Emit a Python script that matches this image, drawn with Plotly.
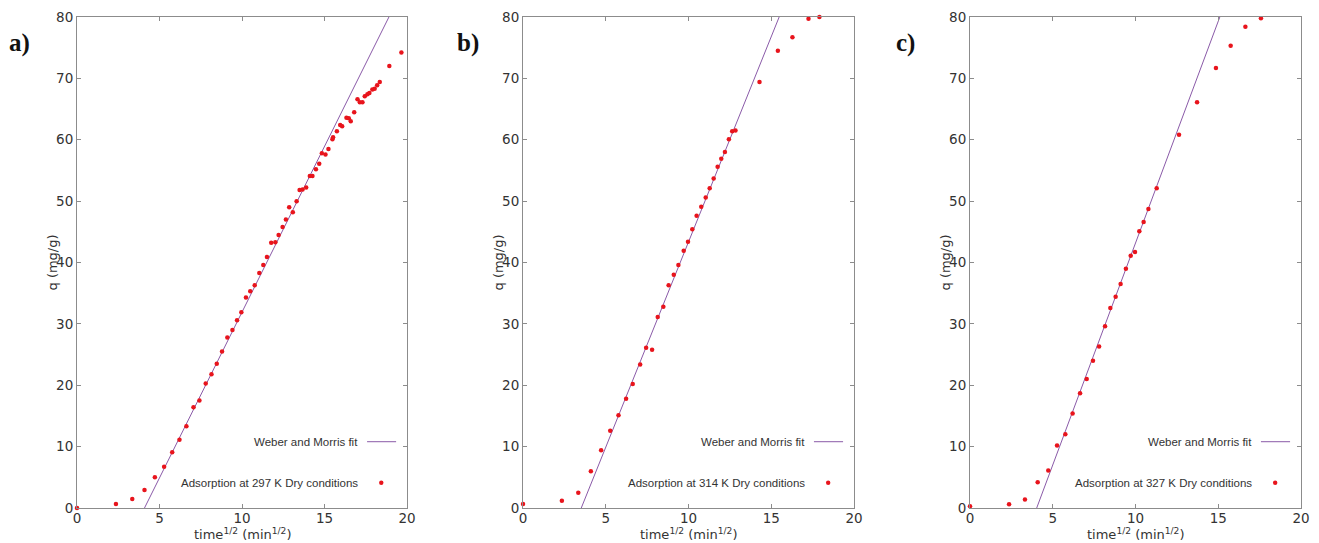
import plotly.graph_objects as go

# ---------------- data ----------------
t_297 = [0.0, 2.36, 3.35, 4.09, 4.72, 5.28, 5.77, 6.21, 6.63, 7.06, 7.42, 7.80, 8.15, 8.47, 8.79,
         9.11, 9.42, 9.70, 9.96, 10.24, 10.50, 10.77, 11.05, 11.29, 11.51, 11.77, 12.02, 12.22,
         12.46, 12.66, 12.86, 13.08, 13.31, 13.49, 13.67, 13.89, 14.11, 14.27, 14.48, 14.68,
         14.84, 15.06, 15.24, 15.48, 15.52, 15.75, 15.95, 16.07, 16.33, 16.47, 16.59, 16.80,
         17.00, 17.14, 17.30, 17.44, 17.60, 17.72, 17.90, 18.04, 18.19, 18.35, 18.93, 19.66]
q_297 = [0.0, 0.65, 1.46, 2.93, 4.99, 6.72, 9.1, 11.1, 13.3, 16.4, 17.5, 20.3, 21.8, 23.5, 25.5,
         27.8, 29.0, 30.6, 31.9, 34.3, 35.3, 36.3, 38.3, 39.6, 40.9, 43.2, 43.3, 44.5,
         45.8, 47.0, 49.0, 48.2, 50.0, 51.8, 51.9, 52.2, 54.1, 54.1, 55.2, 56.1,
         57.8, 57.6, 58.5, 60.1, 60.4, 61.4, 62.4, 62.2, 63.6, 63.5, 63.0, 64.5,
         66.6, 66.1, 66.1, 67.1, 67.4, 67.6, 68.2, 68.3, 68.9, 69.4, 72.0, 74.2]

t_314 = [0.0, 2.35, 3.34, 4.10, 4.72, 5.27, 5.77, 6.23, 6.63, 7.08, 7.44, 7.80, 8.14, 8.48, 8.80,
         9.11, 9.39, 9.71, 9.97, 10.23, 10.49, 10.77, 11.04, 11.28, 11.52, 11.76, 11.98, 12.20,
         12.44, 12.64, 12.84, 14.29, 15.40, 16.28, 17.25, 17.91]
q_314 = [0.65, 1.2, 2.5, 6.0, 9.4, 12.6, 15.1, 17.8, 20.2, 23.4, 26.1, 25.8, 31.1, 32.8, 36.3,
         38.0, 39.6, 41.9, 43.4, 45.4, 47.6, 49.1, 50.6, 52.1, 53.7, 55.6, 56.9, 58.0,
         60.1, 61.4, 61.5, 69.4, 74.5, 76.7, 79.7, 80.0]

t_327 = [0.0, 2.36, 3.32, 4.09, 4.73, 5.26, 5.76, 6.20, 6.65, 7.05, 7.43, 7.80, 8.16, 8.48, 8.80,
         9.10, 9.42, 9.71, 9.97, 10.23, 10.49, 10.78, 11.28, 12.63, 13.72, 14.86, 15.75, 16.64, 17.58]
q_327 = [0.27, 0.6, 1.4, 4.2, 6.1, 10.2, 12.0, 15.4, 18.7, 21.0, 24.0, 26.3, 29.6, 32.6, 34.4,
         36.5, 39.0, 41.1, 41.7, 45.1, 46.6, 48.7, 52.1, 60.8, 66.1, 71.7, 75.3, 78.4, 79.8]

# Weber and Morris fits: q = k * (t - t0)
fit_k = [5.40, 6.69, 7.23]
fit_t0 = [4.09, 3.52, 4.03]
temps = ["297", "314", "327"]
panel_labels = ["a)", "b)", "c)"]

x_ticks = [0, 5, 10, 15, 20]
y_ticks = [0, 10, 20, 30, 40, 50, 60, 70, 80]

# ---------------- figure ----------------
W, H = 1319, 543
panels_px = [(77, 407), (523, 854), (970, 1301)]   # page pixel positions
top_px, bot_px = 17, 508


def fx(px):
    return px / W


def fy(py):
    return 1 - py / H


fig = go.Figure()
series = [(t_297, q_297), (t_314, q_314), (t_327, q_327)]
tick_font = dict(family="DejaVu Sans, Verdana, sans-serif", size=13.5, color="#333333")
title_font = dict(family="DejaVu Sans, Verdana, sans-serif", size=13, color="#333333")
line_color = "#8a5aa8"
pt_color = "#e8141c"

layout_upd = {}
for i, ((ts, qs), (x0p, x1p)) in enumerate(zip(series, panels_px)):
    n = "" if i == 0 else str(i + 1)
    xa, ya = "x" + n, "y" + n
    fit_x = [0, 20]
    fit_y = [fit_k[i] * (x - fit_t0[i]) for x in fit_x]
    fig.add_trace(go.Scatter(x=fit_x, y=fit_y, mode="lines", xaxis=xa, yaxis=ya,
                             line=dict(color=line_color, width=1), showlegend=False,
                             cliponaxis=True))
    fig.add_trace(go.Scatter(x=ts, y=qs, mode="markers", xaxis=xa, yaxis=ya,
                             marker=dict(color=pt_color, size=4.5), showlegend=False,
                             cliponaxis=False))
    ax_common = dict(showgrid=False, zeroline=False, showline=True, linecolor="#8c8c8c",
                     linewidth=1, mirror="ticks", ticks="inside", ticklen=4,
                     tickcolor="#8c8c8c", tickfont=tick_font, automargin=False)
    layout_upd["xaxis" + n] = dict(ax_common, domain=[fx(x0p), fx(x1p)], range=[0, 20],
                                   tickvals=x_ticks, anchor=ya, ticklabelstandoff=-2)
    layout_upd["yaxis" + n] = dict(ax_common, domain=[fy(bot_px), fy(top_px)],
                                   range=[0, 80], tickvals=y_ticks, anchor=xa)

fig.update_layout(**layout_upd)

annotations = []
shapes = []
leg_font = dict(family="Liberation Sans, Arial, sans-serif", size=11.5, color="#333333")
for i in range(3):
    n = "" if i == 0 else str(i + 1)
    xd, yd = "x" + n + " domain", "y" + n + " domain"
    # axis titles
    annotations.append(dict(xref=xd, yref="paper", x=0.5, y=fy(534), xanchor="center",
                            yanchor="middle",
                            text="time<sup>1/2</sup> (min<sup>1/2</sup>)",
                            showarrow=False, font=title_font))
    annotations.append(dict(xref="paper", yref=yd, x=fx(panels_px[i][0] - 25), y=0.5,
                            xanchor="center", yanchor="middle", textangle=-90,
                            text="q (mg/g)", showarrow=False, font=title_font))
    # legend
    annotations.append(dict(xref=xd, yref=yd, x=0.858, y=0.135, xanchor="right",
                            yanchor="middle", text="Weber and Morris fit",
                            showarrow=False, font=leg_font))
    annotations.append(dict(xref=xd, yref=yd, x=0.858, y=0.0515, xanchor="right",
                            yanchor="middle",
                            text="Adsorption at %s K Dry conditions" % temps[i],
                            showarrow=False, font=leg_font))
    shapes.append(dict(type="line", xref=xd, yref=yd, x0=0.879, x1=0.967, y0=0.135,
                       y1=0.135, line=dict(color=line_color, width=1)))
    shapes.append(dict(type="circle", xref=xd, yref=yd, xsizemode="pixel",
                       ysizemode="pixel", xanchor=0.922, yanchor=0.0515,
                       x0=-2.2, x1=2.2, y0=-2.2, y1=2.2,
                       fillcolor=pt_color, line=dict(width=0)))
    # panel label
    annotations.append(dict(xref="paper", yref="paper",
                            x=fx([7, 455, 894][i]), y=fy(43), xanchor="left",
                            yanchor="middle", text="<b>%s</b>" % panel_labels[i],
                            showarrow=False,
                            font=dict(family="Liberation Serif, Times New Roman, serif",
                                      size=25, color="#111111")))

fig.update_layout(width=W, height=H, margin=dict(l=0, r=0, t=0, b=0),
                  paper_bgcolor="white", plot_bgcolor="white",
                  annotations=annotations, shapes=shapes, showlegend=False)

fig.write_html("out.html",
               config={"displayModeBar": False},
               post_script="document.body.style.margin='0';"
                           "document.body.style.overflow='hidden';")
